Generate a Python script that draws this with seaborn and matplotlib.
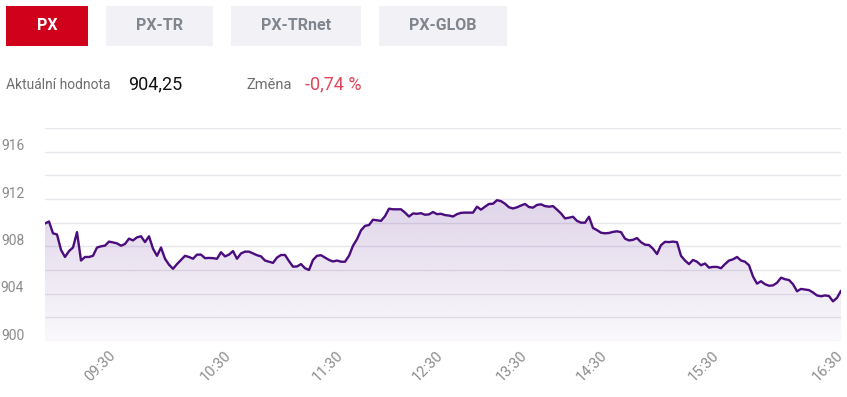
import numpy as np
import matplotlib
matplotlib.use("Agg")
import matplotlib.pyplot as plt
import matplotlib.transforms as mtransforms
from matplotlib.patches import Rectangle, PathPatch
from matplotlib.path import Path
from matplotlib.colors import to_rgb
import seaborn as sns

# ---------------- data ----------------
values = [
    909.93, 910.10, 909.10, 909.00, 907.70, 907.10, 907.60, 907.90, 909.20, 906.80,
    907.10, 907.10, 907.20, 907.90, 908.00, 908.06, 908.40, 908.33, 908.25, 908.05,
    908.20, 908.65, 908.50, 908.76, 908.85, 908.36, 908.85, 907.80, 907.20, 907.90,
    906.95, 906.45, 906.10, 906.50, 906.85, 907.20, 907.10, 906.95, 907.30, 907.30,
    907.00, 907.02, 907.00, 906.95, 907.50, 907.15, 907.30, 907.60, 906.95, 907.40,
    907.55, 907.55, 907.40, 907.25, 907.15, 906.80, 906.70, 906.60, 907.05, 907.27,
    907.27, 906.75, 906.28, 906.30, 906.50, 906.15, 906.00, 906.85, 907.20, 907.25,
    907.05, 906.85, 906.72, 906.80, 906.70, 906.70, 907.20, 908.05, 908.60, 909.35,
    909.73, 909.80, 910.25, 910.20, 910.15, 910.55, 911.18, 911.13, 911.13, 911.13,
    910.85, 910.52, 910.78, 910.75, 910.80, 910.67, 910.70, 910.90, 910.72, 910.75,
    910.64, 910.60, 910.52, 910.72, 910.83, 910.85, 910.85, 910.85, 911.35, 911.10,
    911.35, 911.58, 911.60, 911.90, 911.82, 911.60, 911.30, 911.20, 911.30, 911.45,
    911.58, 911.32, 911.27, 911.50, 911.55, 911.40, 911.35, 911.40, 911.10, 910.78,
    910.36, 910.42, 910.50, 910.15, 910.00, 910.00, 910.50, 909.55, 909.37, 909.15,
    909.10, 909.13, 909.22, 909.27, 909.20, 908.65, 908.50, 908.55, 908.70, 908.35,
    908.14, 908.11, 907.80, 907.35, 908.10, 908.38, 908.36, 908.40, 908.35, 907.20,
    906.80, 906.50, 906.85, 906.70, 906.40, 906.55, 906.20, 906.26, 906.26, 906.15,
    906.50, 906.80, 906.90, 907.10, 906.80, 906.70, 906.40, 905.45, 904.85, 905.05,
    904.80, 904.67, 904.70, 904.92, 905.35, 905.22, 905.15, 904.80, 904.20, 904.40,
    904.35, 904.30, 904.10, 903.85, 903.78, 903.85, 903.80, 903.35, 903.65, 904.25,
]
tick_idx = [17, 46, 74, 99, 120, 140, 168, 199]
tick_labels = ["09:30", "10:30", "11:30", "12:30", "13:30", "14:30", "15:30", "16:30"]
y_grid = [900, 902, 904, 906, 908, 910, 912, 914, 916, 918]
y_labels = [900, 904, 908, 912, 916]
buttons = ["PX", "PX-TR", "PX-TRnet", "PX-GLOB"]
current_label, current_value = "Aktuální hodnota", "904,25"
change_label, change_value = "Změna", "-0,74 %"

# ---------------- style ----------------
sns.set_style("white")
plt.rcParams["font.family"] = ["Roboto", "DejaVu Sans"]

W, H = 847, 397
fig = plt.figure(figsize=(W / 100, H / 100), dpi=100)
fig.patch.set_facecolor("white")

def fx(px):
    return px / W

def fy(py):
    return 1 - py / H

# axes placement
x_left, x_right, y_top, y_bot = 45, 841, 128, 341
ax = fig.add_axes([fx(x_left), fy(y_bot), fx(x_right) - fx(x_left), (y_bot - y_top) / H])
ax.set_facecolor("white")

LINE = "#4b0c7d"
x = np.arange(len(values))
vals = np.array(values)

# gridlines
for g in y_grid:
    ax.axhline(g, color="#e6e6ec", lw=1.0, zorder=0)

# gradient fill under the line
verts = list(zip(x, vals)) + [(x[-1], 900), (x[0], 900), (x[0], vals[0])]
codes = [Path.MOVETO] + [Path.LINETO] * (len(verts) - 2) + [Path.CLOSEPOLY]
clip = PathPatch(Path(verts, codes), facecolor="none", edgecolor="none", transform=ax.transData)
ax.add_patch(clip)
r, g_, b = to_rgb("#5a1e8c")
ny = 256
grad = np.zeros((ny, 1, 4))
grad[:, 0, 0] = r
grad[:, 0, 1] = g_
grad[:, 0, 2] = b
grad[:, 0, 3] = np.linspace(0.03, 0.19, ny)
im = ax.imshow(grad, extent=[x[0], x[-1], 900, 912], origin="lower", aspect="auto", zorder=1,
               interpolation="bilinear")
im.set_clip_path(clip)

sns.lineplot(x=x, y=vals, ax=ax, color=LINE, linewidth=1.7, zorder=3)

ax.set_xlim(x[0], x[-1])
ax.set_ylim(900, 918)
for s in ax.spines.values():
    s.set_visible(False)

ax.set_xticks(tick_idx)
ax.set_xticklabels(tick_labels, rotation=45, ha="right", va="center", rotation_mode="anchor",
                   color="#8c8c8c", fontsize=10.5)
ax.set_yticks(y_labels)
ax.set_yticklabels([str(v) for v in y_labels], color="#8c8c8c", fontsize=10)
ax.tick_params(axis="both", length=0)
ax.tick_params(axis="y", pad=15)
ax.tick_params(axis="x", pad=9)
off = mtransforms.ScaledTranslation(0, 7 / 100, fig.dpi_scale_trans)
for lab in ax.get_yticklabels():
    lab.set_transform(lab.get_transform() + off)
ax.set_xlabel("")
ax.set_ylabel("")
ax.grid(False)

# ---------------- header buttons ----------------
btn_boxes = [(6, 6, 88, 46), (106, 6, 213, 46), (231, 6, 361, 46), (379, 6, 507, 46)]
for i, (name, (x0, y0, x1, y1)) in enumerate(zip(buttons, btn_boxes)):
    active = i == 0
    fig.patches.append(Rectangle((fx(x0), fy(y1)), fx(x1) - fx(x0), (y1 - y0) / H,
                                 transform=fig.transFigure, facecolor="#d0021b" if active else "#f2f2f6",
                                 edgecolor="none", zorder=0))
    fig.text(fx((x0 + x1) / 2), fy((y0 + y1) / 2), name, ha="center", va="center",
             fontsize=11.5, fontweight="bold", color="white" if active else "#80858e")

fig.text(fx(6), fy(85), current_label, ha="left", va="center", fontsize=10, color="#6e6e6e")
fig.text(fx(128), fy(84), current_value, ha="left", va="center", fontsize=13, color="#111111")
fig.text(fx(246), fy(85), change_label, ha="left", va="center", fontsize=10.5, color="#6e6e6e")
fig.text(fx(305), fy(84), change_value, ha="left", va="center", fontsize=13, color="#e2455a")

fig.savefig("out.png", dpi=100, facecolor="white")
